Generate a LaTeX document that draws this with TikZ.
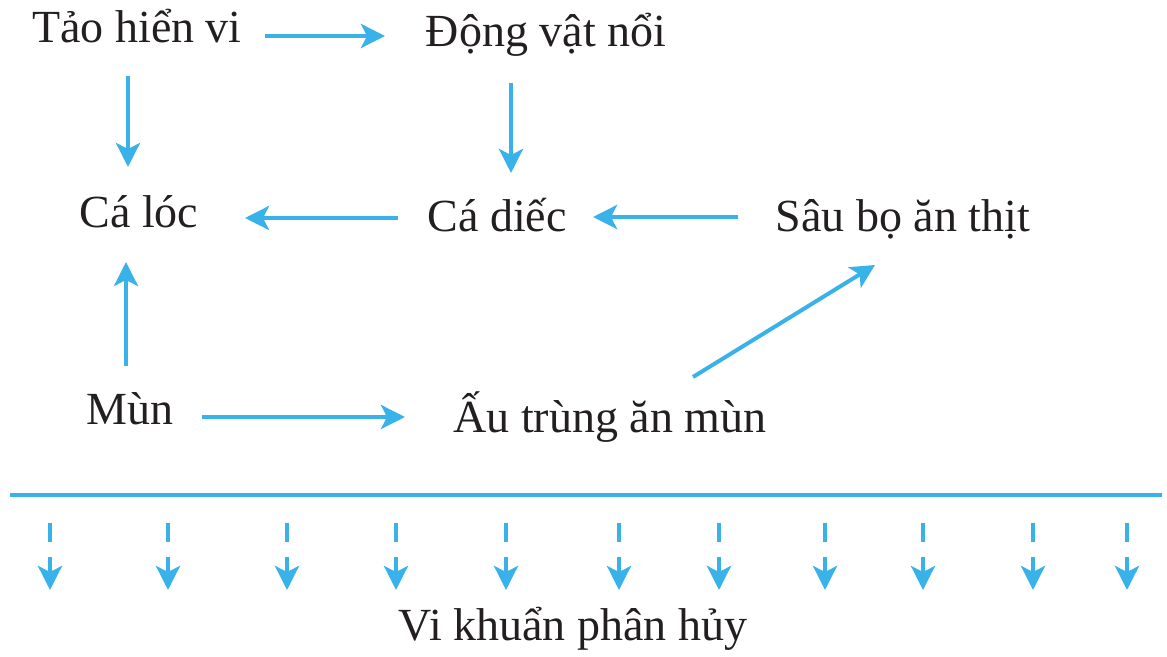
\documentclass[tikz,border=0pt]{standalone}
\usepackage{fontspec}
\setmainfont{Liberation Serif}
\usetikzlibrary{arrows.meta}
\definecolor{skyblue}{RGB}{56,178,232}
\definecolor{ink}{RGB}{35,31,32}

\begin{document}
\begin{tikzpicture} [x=0.5pt, y=-0.5pt, >={Stealth[length=12pt,width=12pt,inset=3pt]}, link/.style={draw, ->, color=skyblue, line width=2pt}, decay/.style={->, color=skyblue, line width=2pt, dash pattern=on 9.5pt off 7.5pt}, food/.style={inner sep=0pt, anchor=base, text=ink, font=\fontsize{23pt}{27pt}\selectfont}]
\useasboundingbox (0,0) rectangle (1167,657);
\node[food] (tao) at (137,43) {Tảo hiển vi}; % producers, top row
\node[food] (dong) at (546,47) {Động vật nổi};
\node[food] (loc) at (139,228) {Cá lóc};
\node[food] (diec) at (497,232) {Cá diếc};
\node[food] (sau) at (903,232) {Sâu bọ ăn thịt};
\node[food] (mun) at (130,425) {Mùn};
\node[food] (au) at (610,433) {Ấu trùng ăn mùn};
\node[food] (vikhuan) at (573,640) {Vi khuẩn phân hủy};

\path
([shift={(128,-7)}]tao.base) edge[link] ([shift={(-161,-11)}]dong.base) % Tảo -> Động vật
([shift={(-9,33)}]tao.base) edge[link] ([shift={(-11,-61)}]loc.base)
([shift={(-35,36)}]dong.base) edge[link] ([shift={(14,-59)}]diec.base)
([shift={(-99,-14)}]diec.base) edge[link] ([shift={(106,-10)}]loc.base)
([shift={(-165,-15)}]sau.base) edge[link] ([shift={(96,-15)}]diec.base)
([shift={(-4,-59)}]mun.base) edge[link] ([shift={(-13,34)}]loc.base) % Mùn -> Cá lóc
([shift={(72,-8)}]mun.base) edge[link] ([shift={(-205,-16)}]au.base)
([shift={(83,-56)}]au.base) edge[link] ([shift={(-28,33)}]sau.base);

% ground line and the decomposers below it
\coordinate (groundl) at (10,495);
\coordinate (groundr) at (1162,495);
\draw[color=skyblue, line width=1.8pt] (groundl) -- (groundr);
\foreach \x [count=\i] in {50,168,287,396,506,619,719,825,923,1033,1127}
  \draw[decay] (\x,523) coordinate (drop\i) -- (\x,590);
\end{tikzpicture}
\end{document}
